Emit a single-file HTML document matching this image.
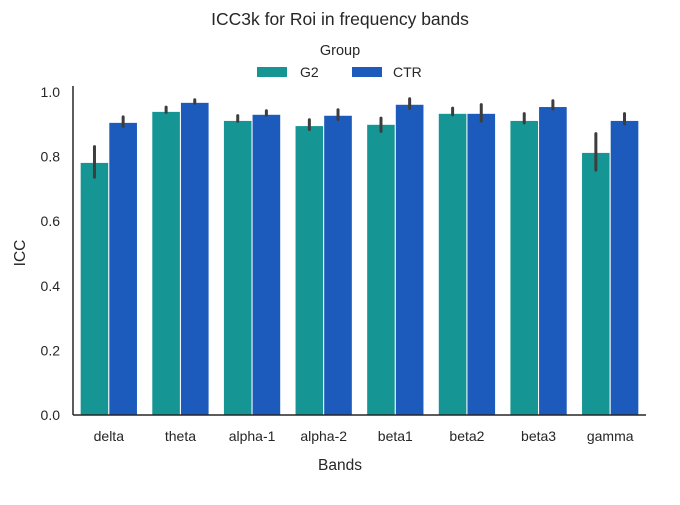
<!DOCTYPE html>
<html><head><meta charset="utf-8"><style>
body{margin:0;background:#fff}
svg{font-family:"Liberation Sans",sans-serif}
</style></head><body>
<svg id="chart" width="680" height="500">
<text x="340" y="25" text-anchor="middle" font-size="17.5" fill="#262626">ICC3k for Roi in frequency bands</text>
<text x="340" y="55" text-anchor="middle" font-size="14.5" fill="#262626">Group</text>
<g><rect x="257" y="67" width="30" height="10" fill="#159694"/><text x="300" y="77" font-size="14" fill="#262626">G2</text></g>
<g><rect x="352" y="67" width="30" height="10" fill="#1c5bbb"/><text x="393" y="77" font-size="14" fill="#262626">CTR</text></g>
<text transform="translate(25,253) rotate(-90)" text-anchor="middle" font-size="15.5" fill="#262626">ICC</text>
<text x="340" y="470" text-anchor="middle" font-size="15.5" fill="#262626">Bands</text>
<g id="plot"></g>
</svg>
<script>
const categories=["delta","theta","alpha-1","alpha-2","beta1","beta2","beta3","gamma"];
const g2Values=[0.782,0.940,0.912,0.896,0.900,0.934,0.912,0.813];
const ctrValues=[0.906,0.968,0.931,0.928,0.962,0.934,0.955,0.912];
const g2Low=[0.736,0.937,0.909,0.884,0.878,0.929,0.904,0.758];
const g2High=[0.831,0.953,0.927,0.914,0.919,0.950,0.933,0.871];
const ctrLow=[0.893,0.965,0.928,0.915,0.949,0.910,0.947,0.901];
const ctrHigh=[0.923,0.976,0.942,0.945,0.979,0.961,0.973,0.933];
const yTicks=[0,0.2,0.4,0.6,0.8,1.0];
const L=73,R=646,B=415,T=92;
const bw=(R-L)/categories.length;
const y=v=>B-(B-T)*v;
const x=i=>L+bw*(i+0.5);
const ns="http://www.w3.org/2000/svg";
const plot=document.getElementById('plot');
function mk(tag,attrs){const e=document.createElementNS(ns,tag);for(const k in attrs)e.setAttribute(k,attrs[k]);plot.appendChild(e);return e;}
const series=[[g2Values,g2Low,g2High,"#159694","g2"],[ctrValues,ctrLow,ctrHigh,"#1c5bbb","ctr"]];
const w=bw*0.4;
categories.forEach((c,i)=>{
  series.forEach((s,j)=>{
    const x0=x(i)-w+j*w;
    const r=mk('rect',{x:x0,y:y(s[0][i]),width:w,height:B-y(s[0][i]),fill:s[3],stroke:"#fff","stroke-width":1});
    
    
    const l=mk('line',{x1:x0+w/2,x2:x0+w/2,y1:y(s[1][i]),y2:y(s[2][i]),stroke:"#3d3d3d","stroke-width":3,"stroke-linecap":"round"});
    
    
  });
  const t=mk('text',{x:x(i),y:B+26,"text-anchor":"middle","font-size":14,fill:"#262626"});
  t.textContent=c;
  
  
});
yTicks.forEach(v=>{
  const t=mk('text',{x:L-13,y:y(v)+5,"text-anchor":"end","font-size":14,fill:"#262626"});
  t.textContent=v.toFixed(1);
  
  
});
const ya=mk('line',{x1:L,x2:L,y1:86,y2:B,stroke:"#262626","stroke-width":1.5});


const xa=mk('line',{x1:L,x2:R,y1:B,y2:B,stroke:"#262626","stroke-width":1.5});


</script>
</body></html>
